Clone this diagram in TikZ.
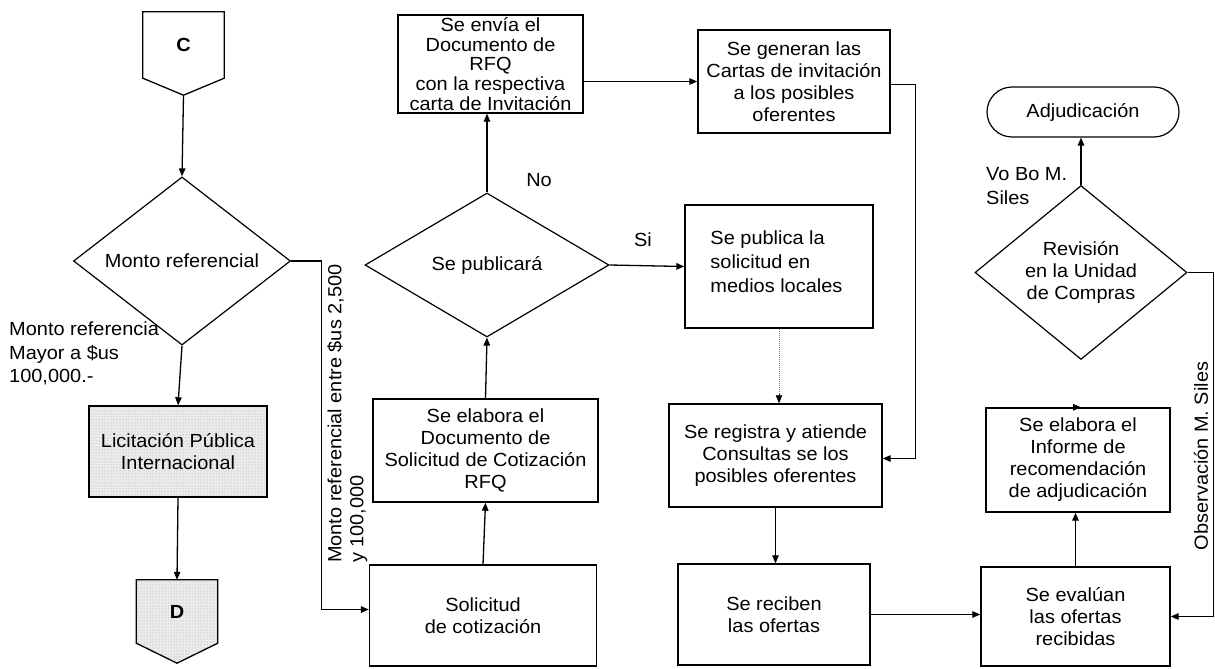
\documentclass[tikz,border=0pt]{standalone}
\usepackage{fontspec}
\setmainfont{Liberation Sans}[FakeStretch=1.05]
\usetikzlibrary{shapes.geometric,arrows.meta,patterns}
\newcommand\dfont{\fontsize{19}{22}\selectfont}
\begin{document}
\begin{tikzpicture}[x=1pt,y=-1pt,
  every node/.style={font=\dfont},
  box/.style={draw,line width=1.4pt,inner sep=2pt,align=center},
  dec/.style={draw,diamond,line width=1.2pt,inner sep=0pt,align=center},
  stip/.style={preaction={fill=gray!15},pattern=dots,pattern color=gray!75},
  arr/.style={line width=1.3pt,-{Triangle[length=8pt,width=6.5pt]}},
  lbl/.style={inner sep=0pt,align=left}]
\useasboundingbox (0,0) rectangle (1215,669);

% off-page connectors
\node[minimum width=81,minimum height=83,inner sep=0pt,
      label={[font=\dfont\bfseries,yshift=8.5pt]center:C}] (C) at (183.5,53.5) {};
\draw[line width=1.3pt] (C.north west) -- (C.north east) -- ([yshift=17pt]C.south east)
  -- (C.south) -- ([yshift=17pt]C.south west) -- cycle;

\node[minimum width=81,minimum height=83,inner sep=0pt] (D) at (177,621.5) {};
\draw[line width=1.3pt,stip] (D.north west) -- (D.north east) -- ([yshift=20pt]D.south east)
  -- (D.south) -- ([yshift=20pt]D.south west) -- cycle;
\node[font=\dfont\bfseries,inner sep=0pt] (Dt) at (177,612) {D};

% left column
\node[dec,minimum width=217,minimum height=134] (monto) at (182,261) {Monto referencial};
\node[box,stip,minimum width=178,minimum height=91] (lic) at (178,451.5)
  {Licitación Pública\\Internacional};
\node[lbl,anchor=north west,font=\fontsize{19}{23.5}\selectfont] (lmayor) at (9,322)
  {Monto referencia\\Mayor a \$us\\100,000.-};
\node[lbl,rotate=90,anchor=north west] (lentre) at (327,563)
  {Monto referencial entre \$us 2,500\\y 100,000};

% second column
\node[box,minimum width=227,minimum height=101] (sol) at (483,615.5) {Solicitud\\de cotización};
\node[box,minimum width=225,minimum height=103] (elab) at (485.5,450.5)
  {Se elabora el\\Documento de\\Solicitud de Cotización\\RFQ};
\node[dec,minimum width=244,minimum height=144] (pub) at (487,265) {Se publicará};
\node[box,minimum width=185,minimum height=98,inner sep=1pt,font=\fontsize{19}{19.6}\selectfont] (envia) at (490.5,64)
  {Se envía el\\Documento de\\RFQ\\con la respectiva\\carta de Invitación};
\node[lbl] (lno) at (539,180) {No};
\node[lbl] (lsi) at (643,240) {Si};

% third column
\node[box,minimum width=192,minimum height=103] (cartas) at (794,81.5)
  {Se generan las\\Cartas de invitación\\a los posibles\\oferentes};
\node[box,minimum width=188,minimum height=123,align=left,font=\fontsize{19}{24}\selectfont,
      text depth=10pt] (publ) at (779,266.5)
  {Se publica la\hspace*{1.2em}\\solicitud en\\medios locales};
\node[box,minimum width=213,minimum height=103] (reg) at (775.5,455.5)
  {Se registra y atiende\\Consultas se los\\posibles oferentes};
\node[box,minimum width=192,minimum height=101] (rec) at (774,614.5) {Se reciben\\las ofertas};

% fourth column
\node[box,minimum width=189,minimum height=99] (eval) at (1075.5,616.5)
  {Se evalúan\\las ofertas\\recibidas};
\node[box,minimum width=184,minimum height=104] (inf) at (1078,460)
  {Se elabora el\\Informe de\\recomendación\\de adjudicación};
\node[dec,minimum width=212,minimum height=145] (rev) at (1081,272.5)
  {Revisión\\en la Unidad\\de Compras};
\node[draw,line width=1.2pt,rounded corners=25pt,minimum width=192,minimum height=50] (adj)
  at (1083,112) {Adjudicación};
\node[lbl,anchor=north west,font=\fontsize{19}{24}\selectfont] (lvobo) at (986,167) {Vo Bo M.\\Siles};
\node[lbl,rotate=90] (lobs) at (1201,456) {Observación M. Siles};

% connectors
\draw[arr] (C.south) -- (monto.north);
\draw[arr] (monto.south) -- (lic.north);
\draw[arr] (lic.south) -- (D.north);
\draw[arr] (monto.east) -| ([xshift=-47pt,yshift=6pt]sol.west) -- ([yshift=6pt]sol.west);
\draw[arr] (sol.north) -- (elab.south);
\draw[arr] (elab.north) -- (pub.south);
\draw[arr] (pub.north) -- (pub.north |- envia.south);
\draw[arr] (pub.east) -- (publ.west);
\draw[arr] (cartas.west -| envia.east) -- (cartas.west);
\draw[line width=1pt,gray,densely dotted] (publ.south) -- ([yshift=8pt]publ.south |- reg.north);
\draw[arr,line width=0.6pt] ([yshift=9pt]publ.south |- reg.north) -- (publ.south |- reg.north);
\draw[arr] ([yshift=-3pt]cartas.east) -- ++(25,0) |- ([yshift=-3pt]reg.east);
\draw[arr] (reg.south) -- (reg.south |- rec.north);
\draw[arr] (rec.east) -- (rec.east -| eval.west);
\draw[arr] (eval.north) -- (eval.north |- inf.south);
\draw[arr] (inf.north) -- (inf.north -| rev.south);
\draw[arr] (rev.north) -- (rev.north |- adj.south);
\draw[arr] (rev.east) -- ++(26,0) |- (eval.east);
\end{tikzpicture}
\end{document}
